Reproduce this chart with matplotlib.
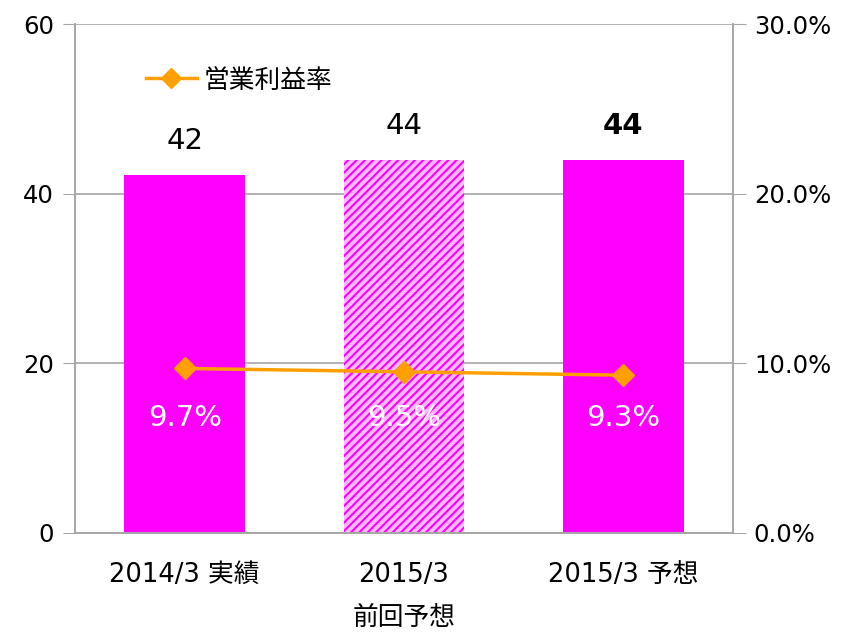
import matplotlib.pyplot as plt
from matplotlib.ticker import FuncFormatter
import numpy as np

plt.rcParams['font.family'] = ['DejaVu Sans', 'Noto Sans CJK JP']
plt.rcParams['hatch.color'] = '#ff00ff'
plt.rcParams['hatch.linewidth'] = 1.5

categories = ['2014/3 実績', '2015/3\n前回予想', '2015/3 予想']
sales = [42.2, 44.0, 44.0]
sales_labels = ['42', '44', '44']
margin = [9.7, 9.5, 9.3]

magenta = '#ff00ff'
orange = '#ffa000'
grid_c = '#a6a6a6'

fig = plt.figure(figsize=(8.47, 6.33), dpi=100)
ax = fig.add_axes([75 / 847, 100 / 633, 658 / 847, 509 / 633])
x = np.arange(len(categories))

ax.bar(x[0], sales[0], width=0.55, color=magenta, zorder=2)
ax.bar(x[1], sales[1], width=0.55, color='#ffbcff', edgecolor=magenta,
       linewidth=0, hatch='////', zorder=2)
ax.bar(x[2], sales[2], width=0.55, color=magenta, zorder=2)

ax.set_xlim(-0.5, 2.5)
ax.set_ylim(0, 60)
ax.set_yticks([0, 20, 40, 60])
ax.yaxis.grid(True, color=grid_c, linewidth=1.2, zorder=0)
ax.set_axisbelow(True)
ax.set_xticks(x)
ax.set_xticklabels(categories, fontsize=18.5, linespacing=1.85)
ax.tick_params(axis='x', length=0, pad=21)
ax.tick_params(axis='y', length=9, color=grid_c, labelsize=17.5, pad=6)
for s in ['left', 'bottom', 'right']:
    ax.spines[s].set_color(grid_c)
    ax.spines[s].set_linewidth(1.2)
ax.spines['top'].set_visible(False)

for i, (v, t) in enumerate(zip(sales, sales_labels)):
    ax.text(x[i], v + 4.0, t, ha='center', va='center', fontsize=21,
            fontweight='bold' if i == 2 else 'normal')

for i, m in enumerate(margin):
    ax.text(x[i], 13.5, f'{m}%', ha='center', va='center', fontsize=21,
            color='white', zorder=4)

ax2 = ax.twinx()
ax2.set_ylim(0, 30)
ax2.set_yticks([0, 10, 20, 30])
ax2.yaxis.set_major_formatter(FuncFormatter(lambda v, p: f'{v:.1f}%'))
ax2.tick_params(axis='y', length=9, color=grid_c, labelsize=17.5, pad=6)
for s in ['left', 'bottom', 'right']:
    ax2.spines[s].set_color(grid_c)
    ax2.spines[s].set_linewidth(1.2)
ax2.spines['top'].set_visible(False)

ax2.plot(x, margin, color=orange, linewidth=2.5, marker='D', markersize=11,
         label='営業利益率', zorder=3)

ax2.legend(loc='upper left', bbox_to_anchor=(0.072, 0.96), frameon=False,
           fontsize=18.5, handlelength=2.0, handletextpad=0.25, markerscale=0.9)

fig.savefig('out.png', dpi=100)
